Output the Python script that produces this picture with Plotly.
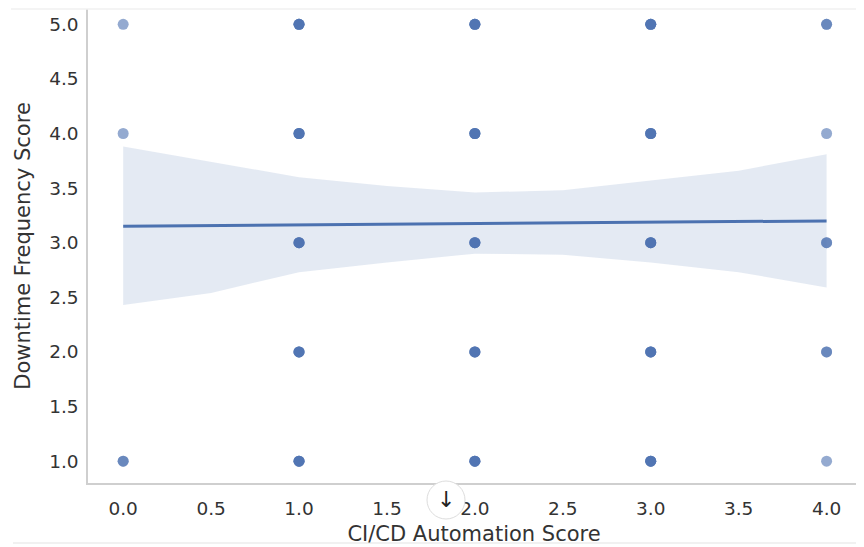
import plotly.graph_objects as go

# --- data ---
pt_x = [0, 0, 0,
        1, 1, 1, 1, 1,
        2, 2, 2, 2, 2,
        3, 3, 3, 3, 3,
        4, 4, 4, 4, 4]
pt_y = [5, 4, 1,
        5, 4, 3, 2, 1,
        5, 4, 3, 2, 1,
        5, 4, 3, 2, 1,
        5, 4, 3, 2, 1]
pt_count = [1, 1, 2,
            4, 4, 4, 4, 4,
            4, 4, 4, 4, 4,
            4, 4, 4, 4, 4,
            2, 1, 2, 2, 1]

fit_x = [0, 4]
fit_y = [3.15, 3.20]

band_x = [0, 0.5, 1, 1.5, 2, 2.5, 3, 3.5, 4]
band_hi = [3.88, 3.74, 3.60, 3.52, 3.46, 3.48, 3.57, 3.66, 3.81]
band_lo = [2.43, 2.54, 2.73, 2.82, 2.90, 2.89, 2.82, 2.73, 2.59]

x_ticks = [0.0, 0.5, 1.0, 1.5, 2.0, 2.5, 3.0, 3.5, 4.0]
y_ticks = [1.0, 1.5, 2.0, 2.5, 3.0, 3.5, 4.0, 4.5, 5.0]

BLUE = "#4C72B0"
FONT = "DejaVu Sans"
TXT = "#333333"

# page body has an 8px margin: figure coordinates = page coordinates - 8
OFF = 8
L, R, T, B = 88 - OFF, 860 - OFF, 9 - OFF, 483 - OFF
W, H = 864 - OFF, 547 - OFF
PW, PH = R - L, B - T


def px(xp):
    return (xp - OFF - L) / PW


def py(yp):
    return (B - (yp - OFF)) / PH


# expand repeated observations
sx, sy = [], []
for x, y, c in zip(pt_x, pt_y, pt_count):
    sx += [x] * c
    sy += [y] * c

fig = go.Figure()
fig.add_trace(go.Scatter(x=band_x + band_x[::-1], y=band_hi + band_lo[::-1],
                         fill="toself", fillcolor="rgba(76,114,176,0.15)",
                         line=dict(width=0), mode="lines", hoverinfo="skip",
                         showlegend=False))
fig.add_trace(go.Scatter(x=sx, y=sy, mode="markers",
                         marker=dict(color=BLUE, size=11, opacity=0.6, line=dict(width=0)),
                         showlegend=False))
fig.add_trace(go.Scatter(x=fit_x, y=fit_y, mode="lines",
                         line=dict(color=BLUE, width=3), showlegend=False))

fig.update_layout(
    width=W, height=H, autosize=False,
    margin=dict(l=L, r=W - R, t=T, b=H - B, autoexpand=False),
    paper_bgcolor="white", plot_bgcolor="white",
    font=dict(family=FONT, color=TXT),
    xaxis=dict(range=[-0.2, 4.19], tickvals=x_ticks,
               ticktext=[f"{v:.1f}" for v in x_ticks],
               showgrid=False, zeroline=False, automargin=False,
               showline=True, linecolor="#cfcfcf", linewidth=1.5,
               ticks="", ticklabelstandoff=8,
               tickfont=dict(size=18.5, color=TXT, family=FONT),
               title=dict(text="CI/CD Automation Score", standoff=8,
                          font=dict(size=21, color=TXT, family=FONT))),
    yaxis=dict(range=[0.8, 5.14], tickvals=y_ticks,
               ticktext=[f"{v:.1f}" for v in y_ticks],
               showgrid=False, zeroline=False, automargin=False,
               showline=True, linecolor="#cfcfcf", linewidth=1.5, mirror=True,
               ticks="", ticklabelstandoff=4,
               tickfont=dict(size=18.5, color=TXT, family=FONT),
               title=dict(text="Downtime Frequency Score", standoff=13,
                          font=dict(size=21, color=TXT, family=FONT))),
    shapes=[
        dict(type="line", xref="paper", yref="paper", x0=px(11), x1=px(870), y0=1.0, y1=1.0,
             line=dict(color="#f0f0f0", width=1.5)),
        dict(type="line", xref="paper", yref="paper", x0=px(13), x1=px(870),
             y0=py(543), y1=py(543),
             line=dict(color="#ededed", width=1.5)),
        dict(type="circle", xref="paper", yref="paper", layer="above",
             x0=px(427), x1=px(465), y0=py(519), y1=py(481),
             fillcolor="white", line=dict(color="#dddddd", width=1)),
    ],
    annotations=[
        dict(text="↓", xref="paper", yref="paper", x=px(446), y=py(499),
             showarrow=False, xanchor="center", yanchor="middle",
             font=dict(size=22, color="#222222", family=FONT)),
    ],
)

fig.write_html("out.html")
